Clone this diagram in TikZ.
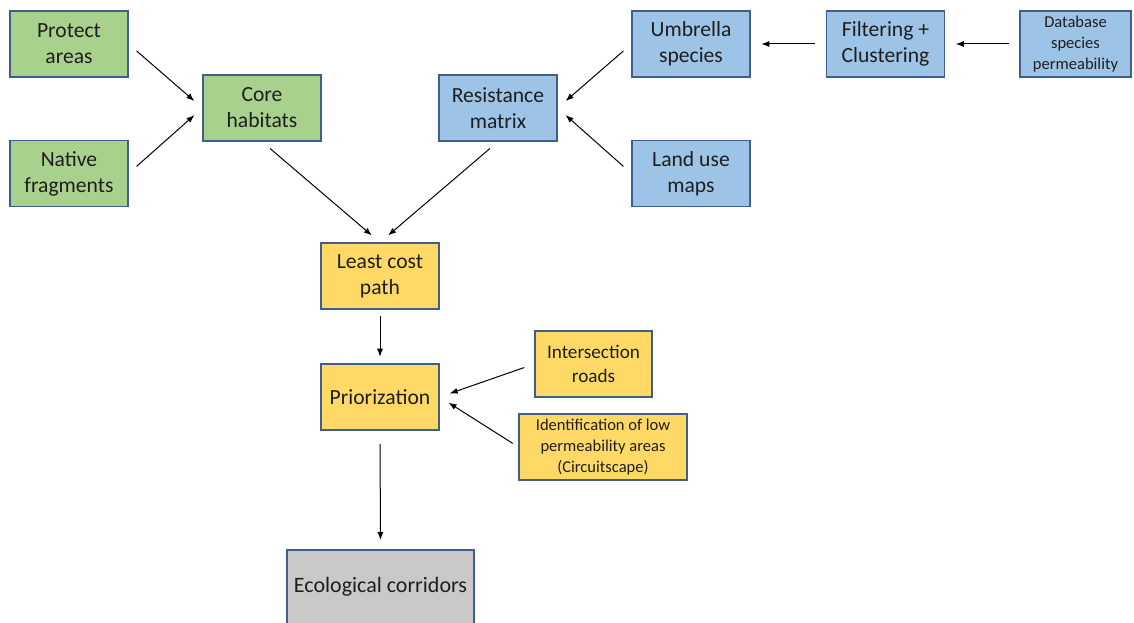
\documentclass[tikz,border=0pt]{standalone}
\usepackage{fontspec}
\setmainfont{Carlito}
\usetikzlibrary{arrows.meta}
\definecolor{gfill}{HTML}{A9D18E}
\definecolor{bfill}{HTML}{9DC3E6}
\definecolor{yfill}{HTML}{FFD966}
\definecolor{kfill}{HTML}{C9C9C9}
\definecolor{edge}{HTML}{3F5F8A}
\definecolor{txt}{HTML}{1E1E1E}
\tikzset{
  box/.style={draw=edge, line width=0.9pt, align=center, inner sep=0pt,
    minimum width=88.5pt, minimum height=49.5pt, text=txt,
    font=\fontsize{16.2}{19.5}\selectfont},
  smallbox/.style={box, font=\fontsize{12.4}{15.75}\selectfont},
  green/.style={fill=gfill}, blue/.style={fill=bfill},
  yellow/.style={fill=yfill}, grey/.style={fill=kfill},
  arr/.style={-{Latex[length=6pt,width=4.5pt]}, line width=0.75pt, black,
    shorten >=8pt, shorten <=8pt}
}
\begin{document}
\begin{tikzpicture}[x=0.75pt,y=-0.75pt]
\clip (0,0) rectangle (1134,623);
\fill[white] (0,0) rectangle (1134,623);
\node[box,green] (pa) at (69,44) {Protect\\areas};
\node[box,green] (nf) at (69,173.5) {Native\\fragments};
\node[box,green] (core) at (262,108) {Core\\habitats};
\node[box,blue] (res) at (498,108) {Resistance\\matrix};
\node[box,blue] (umb) at (691,44) {Umbrella\\species};
\node[box,blue] (filt) at (885.5,44) {Filtering +\\Clustering};
\node[smallbox,blue,minimum width=83.25pt] (db) at (1075.5,44) {Database\\species\\permeability};
\node[box,blue] (land) at (691,173.5) {Land use\\maps};
\node[box,yellow] (lcp) at (380,276) {Least cost\\path};
\node[box,yellow] (prior) at (380,397) {Priorization};
\node[box,yellow,minimum width=87.75pt,font=\fontsize{14.4}{18}\selectfont] (inter) at (593.5,364) {Intersection\\roads};
\node[smallbox,yellow,minimum width=126pt] (ident) at (603,447) {Identification of low\\permeability areas\\(Circuitscape)};
\node[box,grey,minimum width=140.25pt,minimum height=55.5pt,font=\fontsize{16.5}{19.5}\selectfont] (eco) at (380.5,587) {Ecological corridors};
\draw[arr] (pa.east) -- (core.west);
\draw[arr] (nf.east) -- (core.west);
\draw[arr] (core.south) -- (lcp.north);
\draw[arr] (res.south) -- (lcp.north);
\draw[arr] (umb.west) -- (res.east);
\draw[arr] (land.west) -- (res.east);
\draw[arr] (filt.west) -- (umb.east);
\draw[arr] (db.west) -- (filt.east);
\draw[arr, shorten <=5pt, shorten >=5pt] (lcp.south) -- (prior.north);
\draw[arr] (inter.west) -- (prior.east);
\draw[arr, shorten <=5pt] (ident.west) -- (prior.east);
\draw[arr, shorten <=10pt, shorten >=7pt] (prior.south) -- (eco.north);
\end{tikzpicture}
\end{document}
